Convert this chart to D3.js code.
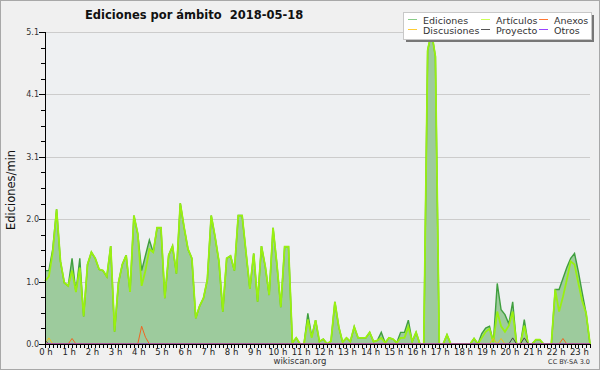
<!DOCTYPE html>
<html>
<head>
<meta charset="utf-8">
<script src="https://cdn.jsdelivr.net/npm/d3@7"></script>
<style>
	body { margin: 0; background: #fff; }
	svg text { font-family: "DejaVu Sans", sans-serif; }
</style>
</head>
<body>
<div id="chart"></div>
<script>
// one value every 10 minutes, from 0:00 to 23:30
var ediciones = [
	1.2, 1.2, 1.55, 2.2, 1.35, 1.0, 0.95, 1.4, 0.85, 1.4,
	0.45, 1.3, 1.5, 1.4, 1.22, 1.2, 1.1, 1.6, 0.2, 1.0,
	1.3, 1.45, 0.85, 2.1, 1.8, 1.2, 1.45, 1.7, 1.5, 1.9,
	1.9, 0.75, 1.45, 1.6, 1.15, 2.3, 1.9, 1.55, 1.4, 0.42,
	0.62, 0.75, 1.05, 2.1, 1.75, 1.35, 0.53, 1.4, 1.44, 1.2,
	2.1, 2.1, 1.5, 0.9, 1.48, 0.69, 1.6, 1.26, 0.8, 1.9,
	1.3, 0.6, 1.59, 1.59, 0.02, 0.1, 0, 0, 0.5, 0.12,
	0.39, 0.04, 0.08, 0, 0.05, 0.69, 0.28, 0.03, 0.1, 0.04,
	0.28, 0.1, 0.1, 0.1, 0.19, 0.04, 0.06, 0.19, 0.02, 0.1,
	0.08, 0.02, 0.19, 0.19, 0.39, 0.04, 0.19, 0, 0, 4.8,
	5.1, 4.7, 0, 0, 0.15, 0, 0, 0, 0, 0,
	0, 0.09, 0, 0.17, 0.26, 0.29, 0.03, 0.99, 0.56, 0.48,
	0.33, 0.69, 0, 0, 0.4, 0, 0, 0.07, 0.07, 0,
	0, 0, 0.89, 0.89, 1.07, 1.25, 1.4, 1.48, 1.18, 0.83,
	0.5, 0
];
var articulos = [
	1.03, 1.1, 1.5, 2.2, 1.35, 1.0, 0.95, 1.2, 0.85, 1.25,
	0.45, 1.3, 1.5, 1.4, 1.22, 1.2, 1.1, 1.6, 0.2, 1.0,
	1.3, 1.45, 0.85, 2.1, 1.8, 0.95, 1.2, 1.55, 1.5, 1.9,
	1.9, 0.75, 1.45, 1.6, 1.15, 2.3, 1.9, 1.55, 1.4, 0.42,
	0.62, 0.75, 1.05, 2.1, 1.75, 1.35, 0.53, 1.4, 1.44, 1.2,
	2.1, 2.1, 1.5, 0.9, 1.48, 0.69, 1.6, 1.26, 0.8, 1.9,
	1.3, 0.6, 1.59, 1.59, 0.02, 0.1, 0, 0, 0.4, 0.1,
	0.39, 0.04, 0.08, 0, 0.05, 0.69, 0.28, 0.03, 0.1, 0.04,
	0.28, 0.1, 0.1, 0.1, 0.19, 0.04, 0.06, 0.1, 0.02, 0.1,
	0.08, 0.02, 0.1, 0.1, 0.28, 0.04, 0.19, 0, 0, 4.8,
	5.1, 4.7, 0, 0, 0.15, 0, 0, 0, 0, 0,
	0, 0.09, 0, 0.1, 0.2, 0.25, 0.03, 0.53, 0.29, 0.2,
	0.3, 0.53, 0, 0, 0.3, 0, 0, 0.07, 0.07, 0,
	0, 0, 0.89, 0.53, 0.77, 1.05, 1.35, 1.3, 0.99, 0.7,
	0.5, 0
];
// sparse series: [index, value], every other point is 0
var discusiones = [[1, 0.1], [116, 0.09], [118, 0.09]];
var proyecto = [[0, 0.06], [121, 0.1], [124, 0.1]];
var anexos = [[7, 0.09], [25, 0.29], [26, 0.11], [134, 0.09]];
var otros = [];

var hourLabels = d3.range(0, 24).map(function (h) { return h + " h"; });
var yMax = 5.1;
var yTicks = [0, 1.02, 2.04, 3.06, 4.08, 5.1];

var legendItems = [
	{ name: "Ediciones", color: "#88cc88", col: 0, row: 0 },
	{ name: "Discusiones", color: "#ffcc33", col: 0, row: 1 },
	{ name: "Artículos", color: "#ccff55", col: 1, row: 0 },
	{ name: "Proyecto", color: "#555555", col: 1, row: 1 },
	{ name: "Anexos", color: "#ff7733", col: 2, row: 0 },
	{ name: "Otros", color: "#9944ff", col: 2, row: 1 }
];

var Chart = (function () {
	var width = 600, height = 370;
	var left = 45, right = 590, top = 32, bottom = 344;

	function expand(pairs, n) {
		var arr = d3.range(n).map(function () { return 0; });
		pairs.forEach(function (p) { arr[p[0]] = p[1]; });
		return arr;
	}

	function Chart() {
	}

	Chart.draw = function (elementId) {
		var n = ediciones.length;
		var svg = d3.select("#" + elementId).append("svg")
			.attr("width", width)
			.attr("height", height);

		svg.append("rect")
			.attr("x", 0.5).attr("y", 0.5)
			.attr("width", width - 1).attr("height", height - 1)
			.attr("fill", "#f0f0f0")
			.attr("stroke", "#a8a8a8");

		var x = d3.scaleLinear().domain([0, (n - 1) / 6]).range([left, right]);
		var y = d3.scaleLinear().domain([0, yMax]).range([bottom, top]);

		svg.append("rect")
			.attr("x", left).attr("y", top)
			.attr("width", right - left).attr("height", bottom - top)
			.attr("fill", "#eef0f2");

		// grid
		svg.append("g")
			.selectAll("line")
			.data(yTicks.slice(1))
			.enter()
				.append("line")
					.attr("x1", left).attr("x2", right)
					.attr("y1", function (d) { return Math.round(y(d)) + 0.5; })
					.attr("y2", function (d) { return Math.round(y(d)) + 0.5; })
					.attr("stroke", "#cccccc");

		var xi = function (d, i) { return x(i / 6); };

		svg.append("path")
			.datum(ediciones)
			.attr("fill", "#9dcb9d")
			.attr("d", d3.area().x(xi).y0(bottom).y1(function (d) { return y(d); }));

		svg.append("path")
			.datum(ediciones)
			.attr("fill", "none")
			.attr("stroke", "#3f9f3f")
			.attr("stroke-width", 1.4)
			.attr("d", d3.line().x(xi).y(function (d) { return y(d); }));

		svg.append("path")
			.datum(articulos)
			.attr("fill", "none")
			.attr("stroke", "#99f011")
			.attr("stroke-width", 1.8)
			.attr("d", d3.line().x(xi).y(function (d) { return y(d); }));

		[[discusiones, "#e8c020"], [proyecto, "#444444"], [anexos, "#ee6622"], [otros, "#9933ff"]]
			.forEach(function (s) {
				svg.append("path")
					.datum(expand(s[0], n))
					.attr("fill", "none")
					.attr("stroke", s[1])
					.attr("stroke-width", 1)
					.attr("d", d3.line().x(xi).y(function (d) { return y(d); }));
			});

		// axes
		var axes = svg.append("g").attr("stroke", "#000").attr("shape-rendering", "crispEdges");
		axes.append("line")
			.attr("x1", left + 0.5).attr("x2", left + 0.5)
			.attr("y1", top).attr("y2", bottom + 1);
		axes.append("line")
			.attr("x1", left).attr("x2", right + 1)
			.attr("y1", bottom + 0.5).attr("y2", bottom + 0.5);

		axes.selectAll(".ymin")
			.data(d3.range(0, 21).map(function (k) { return k * yMax / 20; }))
			.enter()
				.append("line")
					.attr("x1", function (d, i) { return i % 4 === 0 ? left - 6 : left - 4; })
					.attr("x2", left)
					.attr("y1", function (d) { return Math.round(y(d)) + 0.5; })
					.attr("y2", function (d) { return Math.round(y(d)) + 0.5; });

		axes.selectAll(".xmin")
			.data(d3.range(0, n))
			.enter()
				.append("line")
					.attr("x1", function (d) { return Math.round(x(d / 6)) + 0.5; })
					.attr("x2", function (d) { return Math.round(x(d / 6)) + 0.5; })
					.attr("y1", bottom)
					.attr("y2", bottom + 4);

		svg.append("g")
			.selectAll("text")
			.data(yTicks)
			.enter()
				.append("text")
					.attr("x", left - 6)
					.attr("y", function (d) { return y(d) + 3; })
					.attr("text-anchor", "end")
					.attr("font-size", 8)
					.attr("fill", "#333")
					.text(function (d) { return d.toFixed(1); });

		svg.append("g")
			.selectAll("text")
			.data(hourLabels)
			.enter()
				.append("text")
					.attr("x", function (d, i) { return x(i) + 1; })
					.attr("y", bottom + 11)
					.attr("text-anchor", "middle")
					.attr("font-size", 8.5)
					.attr("fill", "#222")
					.text(function (d) { return d; });

		svg.append("text")
			.attr("transform", "translate(15,190) rotate(-90)")
			.attr("text-anchor", "middle")
			.attr("font-size", 11.5)
			.attr("fill", "#111")
			.text("Ediciones/min");

		svg.append("text")
			.attr("x", 85).attr("y", 19)
			.attr("font-size", 11.5)
			.attr("font-weight", "bold")
			.attr("fill", "#111")
			.attr("xml:space", "preserve")
			.text("Ediciones por ámbito  2018-05-18");

		svg.append("text")
			.attr("x", 300).attr("y", 364)
			.attr("text-anchor", "middle")
			.attr("font-size", 8.5)
			.attr("fill", "#333")
			.text("wikiscan.org");

		svg.append("text")
			.attr("x", 590).attr("y", 364)
			.attr("text-anchor", "end")
			.attr("font-size", 6.5)
			.attr("fill", "#333")
			.text("CC BY-SA 3.0");

		// legend
		var lg = svg.append("g");
		lg.append("rect")
			.attr("x", 406).attr("y", 15)
			.attr("width", 188).attr("height", 27)
			.attr("fill", "#777");
		lg.append("rect")
			.attr("x", 403.5).attr("y", 12.5)
			.attr("width", 188).attr("height", 27)
			.attr("fill", "#fff")
			.attr("stroke", "#c8c8c8");

		var colX = [408, 481, 539];
		var rowY = [20, 30];
		var item = lg.selectAll(".item")
			.data(legendItems)
			.enter()
				.append("g");
		item.append("line")
			.attr("x1", function (d) { return colX[d.col]; })
			.attr("x2", function (d) { return colX[d.col] + 9; })
			.attr("y1", function (d) { return rowY[d.row] - 0.5; })
			.attr("y2", function (d) { return rowY[d.row] - 0.5; })
			.attr("stroke", function (d) { return d.color; });
		item.append("text")
			.attr("x", function (d) { return colX[d.col] + 15; })
			.attr("y", function (d) { return rowY[d.row] + 3.5; })
			.attr("font-size", 9.5)
			.attr("fill", "#333")
			.text(function (d) { return d.name; });
	};

	return Chart;
})();

Chart.draw("chart");
</script>
</body>
</html>
